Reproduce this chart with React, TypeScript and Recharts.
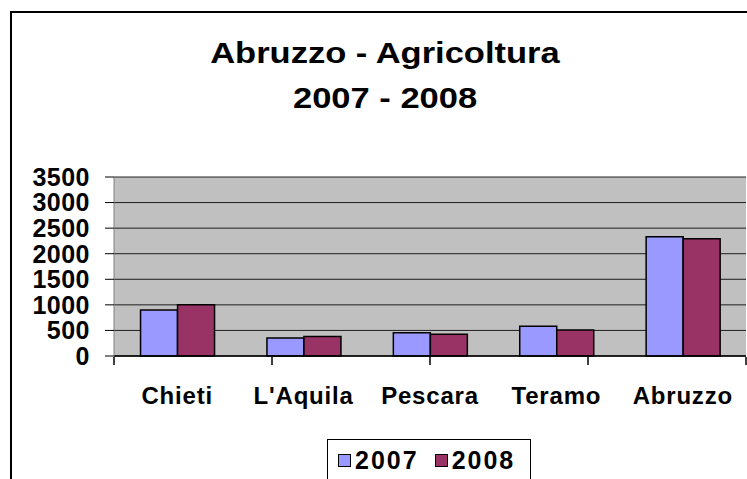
import { BarChart, Bar, XAxis, YAxis, CartesianGrid, ReferenceLine } from "recharts";

const categories = ["Chieti", "L'Aquila", "Pescara", "Teramo", "Abruzzo"];
const values2007 = [900, 352, 456, 580, 2333];
const values2008 = [1000, 380, 424, 508, 2293];
const yTicks = [0, 500, 1000, 1500, 2000, 2500, 3000, 3500];
const edgeTicks = [0, 1, 2, 3, 4, 5];
const seriesNames = ["2007", "2008"];
const seriesColors = ["#9999ff", "#993366"];
const titleLines = ["Abruzzo - Agricoltura", "2007 - 2008"];

const data = categories.map((name, i) => ({
  name,
  y2007: values2007[i],
  y2008: values2008[i]
}));

const FONT = '"Liberation Sans", Arial, sans-serif';

const NoLabel = () => <g />;

export default function App() {
  return (
    <div
      style={{
        position: "absolute",
        left: 0,
        top: 0,
        width: 747,
        height: 479,
        overflow: "hidden",
        background: "#fff",
        fontFamily: FONT
      }}
    >
      {/* chart frame */}
      <div
        style={{
          position: "absolute",
          left: 10,
          top: 11,
          width: 900,
          height: 900,
          border: "2px solid #000"
        }}
      />

      <div
        style={{
          position: "absolute",
          left: 0,
          top: 30,
          width: 770,
          textAlign: "center",
          fontSize: 30,
          fontWeight: "bold",
          lineHeight: "45px",
          color: "#000"
        }}
      >
        {titleLines.map((t) => (
          <div key={t}>
            <span style={{ display: "inline-block", transform: "scaleX(1.15)", whiteSpace: "pre" }}>
              {t}
            </span>
          </div>
        ))}
      </div>

      <div style={{ position: "absolute", left: 0, top: 0 }}>
        <BarChart
          width={747}
          height={479}
          data={data}
          margin={{ top: 177, right: 1, bottom: 121, left: 0 }}
          barGap={0}
          barCategoryGap="21%"
        >
          <CartesianGrid vertical={false} fill="#c0c0c0" stroke="#000" strokeOpacity={0.85} />
          <XAxis
            xAxisId="cat"
            dataKey="name"
            height={1}
            interval={0}
            tickLine={false}
            tickSize={0}
            tickMargin={31}
            axisLine={{ stroke: "#000", strokeWidth: 1.5 }}
            tick={{ fontSize: 24, fontWeight: "bold", fill: "#000", fontFamily: FONT, letterSpacing: 0.8 }}
          />
          <XAxis
            xAxisId="edge"
            type="number"
            domain={[0, 5]}
            ticks={edgeTicks}
            interval={0}
            height={1}
            tick={NoLabel}
            tickSize={8}
            axisLine={false}
            tickLine={{ stroke: "#000", strokeWidth: 1.5 }}
          />
          <YAxis
            width={114}
            domain={[0, 3500]}
            ticks={yTicks}
            interval={0}
            tickSize={9}
            tickMargin={15}
            axisLine={{ stroke: "#808080" }}
            tickLine={{ stroke: "#000" }}
            tick={{ fontSize: 25, fontWeight: "bold", fill: "#000", fontFamily: FONT, letterSpacing: 0.5 }}
          />
          <ReferenceLine xAxisId="edge" x={5} stroke="#808080" ifOverflow="visible" />
          <Bar
            xAxisId="cat"
            dataKey="y2007"
            name={seriesNames[0]}
            fill={seriesColors[0]}
            stroke="#000"
            strokeWidth={1.5}
            isAnimationActive={false}
          />
          <Bar
            xAxisId="cat"
            dataKey="y2008"
            name={seriesNames[1]}
            fill={seriesColors[1]}
            stroke="#000"
            strokeWidth={1.5}
            isAnimationActive={false}
          />
        </BarChart>
      </div>

      {/* legend */}
      <div
        style={{
          position: "absolute",
          left: 327,
          top: 439,
          width: 202,
          height: 60,
          border: "1px solid #000",
          background: "#fff"
        }}
      >
        <div
          style={{
            display: "flex",
            alignItems: "center",
            height: 26,
            marginTop: 7,
            paddingLeft: 10
          }}
        >
          {seriesNames.map((s, i) => (
            <div key={s} style={{ display: "flex", alignItems: "center", marginRight: 16 }}>
              <span
                style={{
                  display: "inline-block",
                  width: 11,
                  height: 11,
                  background: seriesColors[i],
                  border: "1px solid #000",
                  marginRight: 4
                }}
              />
              <span style={{ fontSize: 25, fontWeight: "bold", letterSpacing: 2, color: "#000" }}>{s}</span>
            </div>
          ))}
        </div>
      </div>
    </div>
  );
}
